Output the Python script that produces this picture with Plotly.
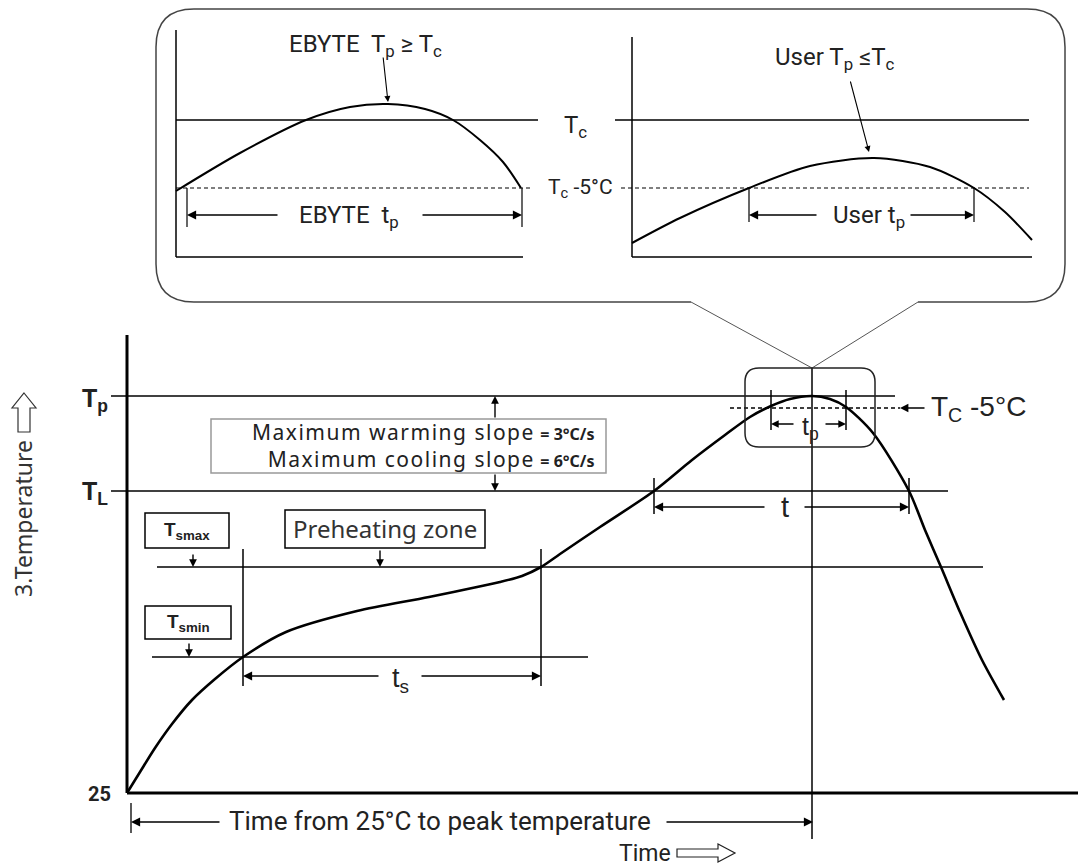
import plotly.graph_objects as go

W, H = 1078, 866

# ---------------- data (diagram units, y grows downward) ----------------
# main reflow profile
profile_x = [127, 140, 155, 172, 192, 215, 243, 286, 357, 429, 500, 522, 541, 560, 600, 654,
             692, 725, 750, 771, 790, 812, 830, 846, 873, 909, 925, 941, 960, 982, 1004]
profile_y = [793, 772, 748, 724, 700, 679, 657, 632, 611, 597, 582, 576, 567, 554, 527, 491,
             460, 435, 417, 406, 399, 396, 399, 407, 433, 491, 530, 567, 612, 660, 700]

# inset curves
ebyte_x = [176, 240, 306, 350, 388, 425, 453, 480, 503, 521]
ebyte_y = [191, 153, 120, 107, 104, 109, 120, 140, 162, 188]
user_x = [632, 680, 749, 810, 874, 930, 974, 1005, 1032]
user_y = [243, 218, 188, 166, 158, 167, 188, 212, 240]

# temperature levels
level_names = ["Tp", "Tc-5", "TL", "Tsmax", "Tsmin", "25"]
level_y = [396, 408, 491, 567, 657, 793]
TP, TC5, TL, TSMAX, TSMIN, BASE = level_y

# time marks
time_marks = {"ts_start": 243, "ts_end": 541, "t_start": 654, "t_end": 909,
              "tp_start": 771, "tp_end": 846, "peak": 812}

ARIAL = "Liberation Sans, Arial, sans-serif"
NARROW = "Roboto, Liberation Sans, sans-serif"
ROUND = "Noto Sans, Lato, sans-serif"

fig = go.Figure()
shapes = []
annotations = []


def seg(x0, y0, x1, y1, w=1.5, color="black", dash=None):
    ln = dict(color=color, width=w)
    if dash:
        ln["dash"] = dash
    shapes.append(dict(type="line", xref="x", yref="y", x0=x0, y0=y0, x1=x1, y1=y1,
                       line=ln, layer="above"))


def arrow(xt, yt, xh, yh, w=1.4, size=1.3, color="black"):
    annotations.append(dict(x=xh, y=yh, ax=xt, ay=yt, xref="x", yref="y",
                            axref="x", ayref="y", text="", showarrow=True,
                            arrowhead=2, arrowsize=size, arrowwidth=w,
                            arrowcolor=color, standoff=0, startstandoff=0))


def label(x, y, text, size, family=ARIAL, xanchor="center", yanchor="middle",
          color="black", angle=0, align="center", pad=1):
    annotations.append(dict(x=x, y=y, xref="x", yref="y", text=text, showarrow=False,
                            xanchor=xanchor, yanchor=yanchor, textangle=angle, align=align,
                            borderpad=pad,
                            font=dict(size=size, family=family, color=color)))


def rrect(x0, y0, x1, y1, r):
    return (f"M{x0+r},{y0} L{x1-r},{y0} Q{x1},{y0} {x1},{y0+r} L{x1},{y1-r} "
            f"Q{x1},{y1} {x1-r},{y1} L{x0+r},{y1} Q{x0},{y1} {x0},{y1-r} "
            f"L{x0},{y0+r} Q{x0},{y0} {x0+r},{y0} Z")


def box(x0, y0, x1, y1, color="black", w=1.5):
    shapes.append(dict(type="rect", xref="x", yref="y", x0=x0, y0=y0, x1=x1, y1=y1,
                       line=dict(color=color, width=w), fillcolor="rgba(0,0,0,0)",
                       layer="above"))


# ---------------- callout balloon ----------------
bx0, by0, bx1, by1, br = 156, 9, 1065, 302, 38
apex_x, apex_y = 812, 368
gap_l, gap_r = 691, 918
callout = (f"M{gap_l},{by1} L{bx0+br},{by1} Q{bx0},{by1} {bx0},{by1-br} "
           f"L{bx0},{by0+br} Q{bx0},{by0} {bx0+br},{by0} L{bx1-br},{by0} "
           f"Q{bx1},{by0} {bx1},{by0+br} L{bx1},{by1-br} Q{bx1},{by1} {bx1-br},{by1} "
           f"L{gap_r},{by1}")
shapes.append(dict(type="path", xref="x", yref="y", path=callout,
                   line=dict(color="#444", width=1.5)))
seg(gap_l, by1, apex_x, apex_y, w=1, color="#555")
seg(gap_r, by1, apex_x, apex_y, w=1, color="#555")

# inset left (EBYTE)
seg(176, 30, 176, 257, w=1.5)
seg(176, 257, 523, 257, w=1.5)
seg(176, 120, 538, 120, w=1.3)
seg(176, 188, 532, 188, w=1.2, dash="4px,3px")
seg(187, 188, 187, 227, w=1.2)
seg(522, 188, 522, 227, w=1.2)
arrow(279, 215, 187, 215)
arrow(421, 215, 522, 215)
label(349, 216, "EBYTE  t<sub>p</sub>", 24, NARROW, color="#222")
label(365, 45, "EBYTE  T<sub>p</sub> ≥ T<sub>c</sub>", 24, NARROW, color="#222")
arrow(383, 56, 388, 102, w=1.1, size=1.1)

# inset right (User)
seg(632, 37, 632, 257, w=1.5)
seg(632, 257, 1032, 257, w=1.5)
seg(615, 120, 1029, 120, w=1.3)
seg(621, 188, 1029, 188, w=1.2, dash="4px,3px")
seg(749, 188, 749, 222, w=1.2)
seg(974, 188, 974, 222, w=1.2)
arrow(818, 215, 749, 215)
arrow(909, 215, 974, 215)
label(869, 216, "User t<sub>p</sub>", 24, NARROW, color="#222")
label(835, 58, "User T<sub>p</sub> ≤T<sub>c</sub>", 24, NARROW, color="#222")
arrow(850, 80, 869, 152, w=1.1, size=1.1)

label(575, 126, "T<sub>c</sub>", 24, NARROW, color="#222")
label(580, 188, "T<sub>c</sub> -5°C", 21, NARROW, color="#222")

# ---------------- main chart ----------------
seg(127, 335, 127, BASE, w=3)
seg(127, BASE, 1078, BASE, w=3)

seg(111, TP, 895, TP, w=1.5)
seg(730, TC5, 900, TC5, w=1.3, dash="4px,3px")
seg(111, TL, 948, TL, w=1.5)
seg(157, TSMAX, 983, TSMAX, w=1.5)
seg(152, TSMIN, 588, TSMIN, w=1.5)

seg(time_marks["ts_start"], 549, time_marks["ts_start"], 686, w=1.5)
seg(time_marks["ts_end"], 549, time_marks["ts_end"], 686, w=1.5)
seg(time_marks["t_start"], 478, time_marks["t_start"], 514, w=1.5)
seg(time_marks["t_end"], 478, time_marks["t_end"], 514, w=1.5)
seg(time_marks["peak"], apex_y, time_marks["peak"], 839, w=1.5)
seg(time_marks["tp_start"], 390, time_marks["tp_start"], 430, w=1.5)
seg(time_marks["tp_end"], 390, time_marks["tp_end"], 430, w=1.5)

shapes.append(dict(type="path", xref="x", yref="y", path=rrect(745, 368, 875, 447, 14),
                   line=dict(color="#222", width=1.5)))

arrow(380, 676, time_marks["ts_start"], 676)
arrow(420, 676, time_marks["ts_end"], 676)
label(400, 680, "t<sub>s</sub>", 27, ARIAL, color="#222")

arrow(766, 507, time_marks["t_start"], 507)
arrow(803, 507, time_marks["t_end"], 507)
label(785, 507, "t", 29, ARIAL, color="#222")

arrow(795, 424, time_marks["tp_start"], 424, size=1.1)
arrow(824, 424, time_marks["tp_end"], 424, size=1.1)
label(810, 428, "t<sub>p</sub>", 25, ARIAL, color="#222")

arrow(926, TC5, 900, TC5, size=1.2)
label(929, TC5, "T<sub>C</sub> -5°C", 28, ARIAL, xanchor="left", color="#222")

# slope box
box(211, 419, 606, 473, color="#999", w=1.5)
sp = "<span style='letter-spacing:1.5px'>{}</span>"
label(596, 445,
      sp.format("Maximum warming slope") +
      " <span style='font-size:16px'><b>= 3°C/s</b></span><br>" +
      sp.format("Maximum cooling slope") +
      " <span style='font-size:16px'><b>= 6°C/s</b></span>",
      21, ROUND, xanchor="right", color="#222", align="right", pad=0)
arrow(495, 419, 495, TP, size=1.1)
arrow(495, 473, 495, TL, size=1.1)

box(145, 513, 229, 548)
label(187, 531, "<b>T<sub>smax</sub></b>", 19, ARIAL, color="#222")
arrow(193, 553, 193, TSMAX, size=1.1)
box(285, 510, 485, 548)
label(385, 528, "Preheating zone", 24, ROUND, color="#333")
arrow(380, 549, 380, TSMAX, size=1.1)
box(145, 606, 231, 639)
label(188, 623, "<b>T<sub>smin</sub></b>", 19, ARIAL, color="#222")
arrow(189, 642, 189, TSMIN, size=1.1)

label(110, 400, "<b>T<sub>p</sub></b>", 25, ARIAL, xanchor="right", color="#222")
label(110, 493, "<b>T<sub>L</sub></b>", 25, ARIAL, xanchor="right", color="#222")
label(113, 794, "<b>25</b>", 20, NARROW, xanchor="right", color="#222")

seg(131, 803, 131, 833, w=1.3)
arrow(221, 822, 131, 822)
arrow(665, 822, 813, 822)
label(440, 821, "Time from 25°C to peak temperature", 26, NARROW, color="#222")
label(645, 853, "Time", 23, NARROW, color="#222")
shapes.append(dict(type="path", xref="x", yref="y",
                   path="M677,849 L718,849 L718,844 L735,853 L718,862 L718,857 L677,857 Z",
                   line=dict(color="#222", width=1.2)))

label(23, 519, "3.Temperature", 23, ROUND, color="#333", angle=-90)
shapes.append(dict(type="path", xref="x", yref="y",
                   path="M24,393 L36,408 L30,408 L30,432 L18,432 L18,408 L12,408 Z",
                   line=dict(color="#333", width=1.2)))

# ---------------- traces ----------------
fig.add_trace(go.Scatter(x=profile_x, y=profile_y, mode="lines",
                         line=dict(color="black", width=2.6, shape="spline", smoothing=0.8),
                         hoverinfo="skip"))
fig.add_trace(go.Scatter(x=ebyte_x, y=ebyte_y, mode="lines",
                         line=dict(color="black", width=2, shape="spline", smoothing=0.8),
                         hoverinfo="skip"))
fig.add_trace(go.Scatter(x=user_x, y=user_y, mode="lines",
                         line=dict(color="black", width=2, shape="spline", smoothing=0.8),
                         hoverinfo="skip"))

fig.update_layout(
    width=W, height=H, margin=dict(l=0, r=0, t=0, b=0),
    paper_bgcolor="white", plot_bgcolor="white", showlegend=False,
    xaxis=dict(range=[0, W], visible=False, fixedrange=True),
    yaxis=dict(range=[H, 0], visible=False, fixedrange=True),
    shapes=shapes, annotations=annotations,
)

fig.write_html("out.html", config={"displayModeBar": False},
               post_script="document.body.style.margin='0';")
